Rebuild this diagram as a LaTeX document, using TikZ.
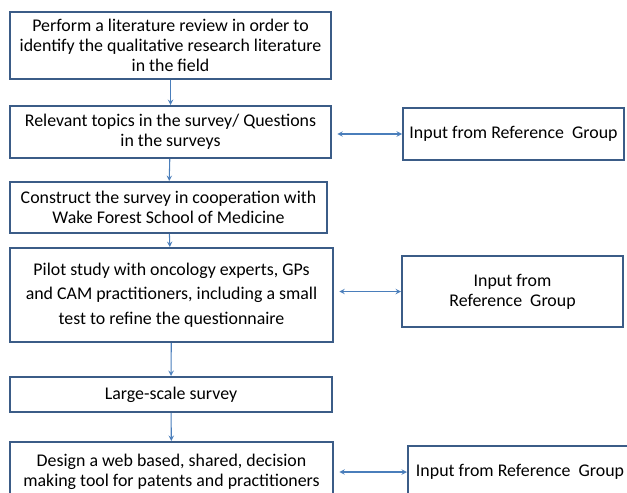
\documentclass[tikz,border=0pt]{standalone}
\usepackage{fontspec}
\setmainfont{Carlito}
\usepackage{tikz}
\usetikzlibrary{positioning}
\definecolor{FlowLine}{HTML}{3B5C87}
\definecolor{FlowArrow}{HTML}{4A7EBB}

\begin{document}
\begin{tikzpicture}[>=stealth,x=0.75pt,y=-0.75pt]
  \tikzstyle{stepbox}=[draw=FlowLine,line width=1.5pt,fill=white,inner sep=0pt,
    align=center,font=\fontsize{13.4}{15.2}\selectfont]
  \tikzstyle{link}=[->,color=FlowArrow,line width=0.8pt]
  \useasboundingbox (0,0) rectangle (627,492);
  % main column
  \node[stepbox,minimum width=240.75pt,minimum height=50.25pt] (lit) at (170.5,45.5)
    {Perform a literature review in order to\\identify the qualitative research literature\\in the field};
  \node[stepbox,minimum width=240.75pt,minimum height=39pt] (topics) at (170.5,132)
    {Relevant topics in the survey/ Questions\\in the surveys};
  \node[stepbox,minimum width=237.75pt,minimum height=38.25pt] (construct) at (168.5,207.5)
    {Construct the survey in cooperation with\\Wake Forest School of Medicine};
  \node[stepbox,minimum width=242.25pt,minimum height=70.5pt,
    font=\fontsize{13.4}{18.4}\selectfont] (pilot) at (171.5,295)
    {Pilot study with oncology experts, GPs\\and CAM practitioners, including a small\\test to refine the questionnaire};
  \node[stepbox,minimum width=241.5pt,minimum height=26.25pt] (large) at (171,394.5)
    {Large-scale survey};
  \node[stepbox,minimum width=242.25pt,minimum height=45pt] (tool) at (171.5,472)
    {Design a web based, shared, decision\\making tool for patents and practitioners};
  % reference group
  \node[stepbox,minimum width=165.75pt,minimum height=39pt] (ref1) at (513.5,134)
    {Input from Reference\ \ Group};
  \node[stepbox,minimum width=165.75pt,minimum height=53.25pt] (ref2) at (512.5,291.5)
    {Input from\\Reference\ \ Group};
  \node[stepbox,minimum width=168pt,minimum height=39pt] (ref3) at (520,472)
    {Input from Reference\ \ Group};
  \draw[link] (lit) -- (topics);
  \draw[link] (topics) -- (construct);
  \draw[link] (construct) -- (pilot);
  \draw[link] (pilot) -- (large);
  \draw[link] (large) -- (tool);
  \draw[link,<->,shorten <=4pt] (ref1.west -| topics.east) -- (ref1.west);
  \draw[link,<->,shorten <=4pt] (ref2.west -| pilot.east) -- (ref2.west);
  \draw[link,<->,shorten <=4pt] (ref3.west -| tool.east) -- (ref3.west);
\end{tikzpicture}
\end{document}
